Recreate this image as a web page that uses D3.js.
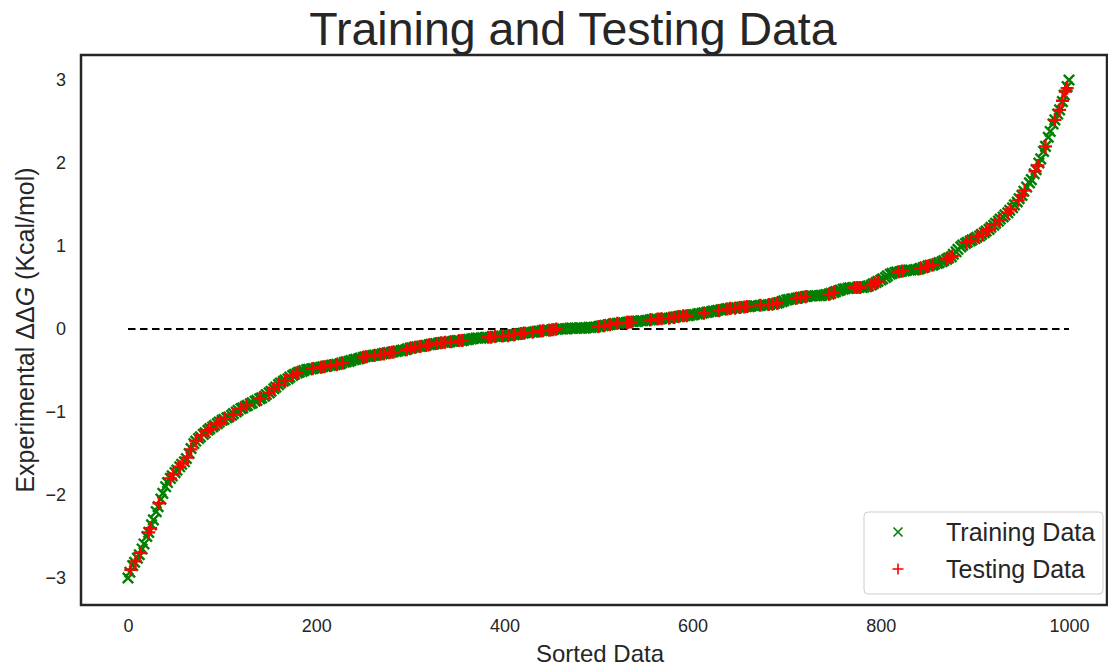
<!DOCTYPE html>
<html>
<head>
<meta charset="utf-8">
<script src="https://cdn.jsdelivr.net/npm/d3@7"></script>
<style>
  html, body { margin: 0; padding: 0; background: #fff; }
  svg { display: block; font-family: Arial, "Liberation Sans", sans-serif; }
</style>
</head>
<body>
<div id="chart"></div>
<script>
// sorted training points: [sorted index, ddG]
const trainPoints = [
  [0,-3.00],[2,-2.93],[5,-2.85],[7,-2.81],[10,-2.76],[12,-2.72],[15,-2.65],[17,-2.59],[20,-2.50],[22,-2.45],
  [25,-2.36],[27,-2.30],[30,-2.20],[32,-2.14],[35,-2.05],[37,-1.98],[40,-1.90],[45,-1.80],[50,-1.73],[55,-1.66],
  [60,-1.60],[65,-1.50],[70,-1.38],[75,-1.32],[80,-1.27],[85,-1.22],[90,-1.18],[95,-1.14],[100,-1.10],[105,-1.07],
  [110,-1.04],[115,-1.00],[120,-0.96],[125,-0.93],[130,-0.90],[135,-0.87],[140,-0.84],[145,-0.81],[150,-0.77],[155,-0.72],
  [160,-0.67],[165,-0.63],[170,-0.60],[175,-0.56],[180,-0.53],[185,-0.51],[190,-0.49],[195,-0.48],[200,-0.47],[205,-0.46],
  [210,-0.45],[215,-0.44],[220,-0.43],[225,-0.42],[230,-0.40],[235,-0.39],[240,-0.37],[245,-0.36],[250,-0.34],[255,-0.33],
  [260,-0.32],[265,-0.31],[270,-0.30],[275,-0.29],[280,-0.28],[285,-0.27],[290,-0.26],[295,-0.25],[300,-0.23],[305,-0.22],
  [310,-0.21],[315,-0.20],[320,-0.19],[325,-0.18],[330,-0.17],[335,-0.16],[340,-0.16],[345,-0.15],[350,-0.14],[355,-0.14],
  [360,-0.13],[365,-0.12],[370,-0.11],[375,-0.11],[380,-0.10],[385,-0.10],[390,-0.09],[395,-0.09],[400,-0.08],[405,-0.08],
  [410,-0.07],[415,-0.06],[420,-0.05],[425,-0.04],[430,-0.04],[435,-0.03],[440,-0.02],[445,-0.02],[450,-0.01],[455,0.00],
  [460,0.00],[465,0.00],[470,0.01],[475,0.01],[480,0.01],[485,0.01],[490,0.02],[495,0.02],[500,0.03],[505,0.04],
  [510,0.05],[515,0.06],[520,0.07],[525,0.07],[530,0.08],[535,0.09],[540,0.09],[545,0.10],[550,0.10],[555,0.11],
  [560,0.12],[565,0.12],[570,0.13],[575,0.13],[580,0.14],[585,0.15],[590,0.16],[595,0.16],[600,0.17],[605,0.18],
  [610,0.19],[615,0.20],[620,0.21],[625,0.22],[630,0.23],[635,0.24],[640,0.25],[645,0.25],[650,0.26],[655,0.27],
  [660,0.27],[665,0.28],[670,0.28],[675,0.29],[680,0.29],[685,0.30],[690,0.31],[695,0.33],[700,0.35],[705,0.36],
  [710,0.37],[715,0.38],[720,0.39],[725,0.40],[730,0.40],[735,0.40],[740,0.41],[745,0.42],[750,0.44],[755,0.46],
  [760,0.48],[765,0.49],[770,0.50],[775,0.50],[780,0.50],[785,0.51],[790,0.53],[795,0.56],[800,0.59],[805,0.62],
  [810,0.66],[815,0.68],[820,0.69],[825,0.70],[830,0.71],[835,0.71],[840,0.72],[845,0.74],[850,0.76],[855,0.77],
  [860,0.79],[865,0.81],[870,0.84],[875,0.87],[880,0.93],[885,0.99],[890,1.03],[895,1.06],[900,1.09],[905,1.12],
  [910,1.16],[915,1.20],[920,1.25],[925,1.30],[930,1.35],[935,1.40],[940,1.46],[945,1.53],[950,1.61],[955,1.71],
  [958,1.76],[960,1.80],[963,1.87],[965,1.92],[968,2.00],[970,2.05],[973,2.14],[975,2.20],[978,2.31],[980,2.38],
  [983,2.47],[985,2.52],[988,2.59],[990,2.64],[993,2.74],[995,2.82],[998,2.92],[1000,3.00]
];

// more training points lying between the ones above
const trainPointsB = [
  [42,-1.85],[47,-1.77],[52,-1.70],[57,-1.63],[62,-1.56],[67,-1.44],[72,-1.35],[77,-1.30],[82,-1.25],[87,-1.20],
  [92,-1.16],[97,-1.12],[102,-1.09],[107,-1.06],[112,-1.02],[117,-0.98],[122,-0.95],[127,-0.92],[132,-0.89],[137,-0.86],
  [142,-0.83],[147,-0.79],[152,-0.75],[157,-0.70],[162,-0.65],[167,-0.615],[172,-0.58],[177,-0.545],[182,-0.52],[187,-0.50],
  [192,-0.485],[197,-0.475],[202,-0.465],[207,-0.455],[212,-0.445],[217,-0.435],[222,-0.425],[227,-0.41],[232,-0.395],[237,-0.38],
  [242,-0.365],[247,-0.35],[252,-0.335],[257,-0.325],[262,-0.315],[267,-0.305],[272,-0.295],[277,-0.285],[282,-0.275],[287,-0.265],
  [292,-0.255],[297,-0.24],[302,-0.225],[307,-0.215],[312,-0.205],[317,-0.195],[322,-0.185],[327,-0.175],[332,-0.165],[337,-0.16],
  [342,-0.155],[347,-0.145],[352,-0.14],[357,-0.135],[362,-0.125],[367,-0.115],[372,-0.11],[377,-0.105],[382,-0.10],[387,-0.095],
  [392,-0.09],[397,-0.085],[402,-0.08],[407,-0.075],[412,-0.065],[417,-0.055],[422,-0.045],[427,-0.04],[432,-0.035],[437,-0.025],
  [442,-0.02],[447,-0.015],[452,-0.005],[457,0.0],[462,0.0],[467,0.005],[472,0.01],[477,0.01],[482,0.01],[487,0.015],
  [492,0.02],[497,0.025],[502,0.035],[507,0.045],[512,0.055],[517,0.065],[522,0.07],[527,0.075],[532,0.085],[537,0.09],
  [542,0.095],[547,0.10],[552,0.105],[557,0.115],[562,0.12],[567,0.125],[572,0.13],[577,0.135],[582,0.145],[587,0.155],
  [592,0.16],[597,0.165],[602,0.175],[607,0.185],[612,0.195],[617,0.205],[622,0.215],[627,0.225],[632,0.235],[637,0.245],
  [642,0.25],[647,0.255],[652,0.265],[657,0.27],[662,0.275],[667,0.28],[672,0.285],[677,0.29],[682,0.295],[687,0.305],
  [692,0.32],[697,0.34],[702,0.355],[707,0.365],[712,0.375],[717,0.385],[722,0.395],[727,0.40],[732,0.40],[737,0.405],
  [742,0.415],[747,0.43],[752,0.45],[757,0.47],[762,0.485],[767,0.495],[772,0.50],[777,0.50],[782,0.505],[787,0.52],
  [792,0.545],[797,0.575],[802,0.605],[807,0.64],[812,0.67],[817,0.685],[822,0.695],[827,0.705],[832,0.71],[837,0.715],
  [842,0.73],[847,0.75],[852,0.765],[857,0.78],[862,0.80],[867,0.825],[872,0.855],[877,0.90],[882,0.96],[887,1.01],
  [892,1.045],[897,1.075],[902,1.105],[907,1.14],[912,1.18],[917,1.225],[922,1.275],[927,1.325],[932,1.375],[937,1.43],
  [942,1.495],[947,1.57],[952,1.66]
];

// sorted testing points: [sorted index, ddG]
const testPoints = [
  [3,-2.90],[8,-2.80],[13,-2.70],[22,-2.45],[24,-2.40],[33,-2.10],[45,-1.80],[48,-1.75],[55,-1.66],[58,-1.62],
  [63,-1.55],[67,-1.45],[72,-1.35],[78,-1.28],[85,-1.22],[88,-1.20],[95,-1.14],[98,-1.12],[103,-1.08],[112,-1.03],
  [120,-0.96],[126,-0.92],[140,-0.84],[150,-0.77],[155,-0.72],[160,-0.67],[167,-0.62],[175,-0.56],[180,-0.53],[196,-0.48],
  [205,-0.46],[208,-0.455],[215,-0.44],[222,-0.43],[228,-0.41],[250,-0.34],[253,-0.335],[262,-0.32],[268,-0.305],[272,-0.30],
  [278,-0.285],[282,-0.28],[296,-0.25],[300,-0.23],[305,-0.22],[310,-0.21],[317,-0.20],[320,-0.19],[328,-0.175],[333,-0.165],
  [337,-0.16],[343,-0.155],[352,-0.14],[355,-0.14],[383,-0.10],[386,-0.10],[390,-0.09],[398,-0.085],[404,-0.08],[410,-0.07],
  [418,-0.055],[421,-0.05],[430,-0.04],[438,-0.025],[441,-0.02],[448,-0.015],[452,-0.01],[455,0.00],[500,0.03],[506,0.04],
  [512,0.05],[520,0.07],[530,0.08],[532,0.08],[535,0.085],[555,0.11],[563,0.12],[567,0.125],[575,0.13],[580,0.14],
  [585,0.15],[590,0.16],[594,0.16],[612,0.19],[628,0.22],[637,0.24],[640,0.25],[645,0.25],[650,0.26],[655,0.265],
  [658,0.27],[672,0.285],[681,0.295],[685,0.30],[690,0.31],[710,0.37],[715,0.38],[720,0.39],[745,0.42],[750,0.44],
  [772,0.50],[775,0.50],[778,0.50],[790,0.53],[794,0.555],[797,0.57],[819,0.69],[823,0.70],[842,0.73],[848,0.755],
  [851,0.76],[855,0.77],[870,0.84],[873,0.86],[876,0.88],[891,1.04],[895,1.06],[903,1.11],[908,1.14],[912,1.18],
  [915,1.20],[921,1.26],[926,1.31],[935,1.40],[938,1.44],[946,1.55],[950,1.61],[953,1.67],[964,1.90],[967,1.97],
  [975,2.20],[985,2.52],[990,2.64],[993,2.75],[996,2.86],[998,2.90]
];

const refLine = [0, 1000];           // x extent of the dashed y=0 line
const xTicks = [0, 200, 400, 600, 800, 1000];
const yTicks = [-3, -2, -1, 0, 1, 2, 3];
const seriesNames = ['Training Data', 'Testing Data'];
const seriesColors = ['green', 'red'];

const W = 1108, H = 668;
const frame = { left: 81, right: 1107, top: 55, bottom: 605 };
const ink = '#262626';

const x = d3.scaleLinear().domain([0, 1000]).range([128, 1069]);
const y = d3.scaleLinear().domain([-3, 3]).range([578, 80]);

const svg = d3.select('#chart').append('svg')
  .attr('width', W).attr('height', H);

// marker paths
const crossX = s => `M${-s},${-s}L${s},${s}M${-s},${s}L${s},${-s}`;
const crossPlus = s => `M${-s},0L${s},0M0,${-s}L0,${s}`;

// dashed zero line
svg.append('line')
  .attr('x1', x(refLine[0])).attr('x2', x(refLine[1]))
  .attr('y1', y(0)).attr('y2', y(0))
  .attr('stroke', '#000').attr('stroke-width', 2)
  .attr('stroke-dasharray', '7.5,4.5');

svg.append('g').selectAll('path')
  .data(trainPoints.concat(trainPointsB)).enter().append('path')
  .attr('transform', d => `translate(${x(d[0])},${y(d[1])})`)
  .attr('d', crossX(5.2))
  .attr('fill', 'none').attr('stroke', seriesColors[0]).attr('stroke-width', 2.4);

svg.append('g').selectAll('path')
  .data(testPoints).enter().append('path')
  .attr('transform', d => `translate(${x(d[0])},${y(d[1])})`)
  .attr('d', crossPlus(6.5))
  .attr('fill', 'none').attr('stroke', seriesColors[1]).attr('stroke-width', 2.4);

// frame
svg.append('rect')
  .attr('x', frame.left).attr('y', frame.top)
  .attr('width', frame.right - frame.left).attr('height', frame.bottom - frame.top)
  .attr('fill', 'none').attr('stroke', ink).attr('stroke-width', 2.5);

// axes (labels only, seaborn white style has no tick marks)
const xAxis = svg.append('g')
  .attr('transform', `translate(0,${frame.bottom})`)
  .call(d3.axisBottom(x).tickValues(xTicks).tickSize(0).tickPadding(14)
    .tickFormat(d3.format('d')));
const yAxis = svg.append('g')
  .attr('transform', `translate(${frame.left},0)`)
  .call(d3.axisLeft(y).tickValues(yTicks).tickSize(0).tickPadding(15)
    .tickFormat(d => d < 0 ? '\u2212' + Math.abs(d) : d));
[xAxis, yAxis].forEach(g => {
  g.select('.domain').remove();
  g.selectAll('text').attr('font-size', 18).attr('fill', ink)
    .attr('font-family', 'Arial, "Liberation Sans", sans-serif');
});

// titles
svg.append('text')
  .attr('x', 573).attr('y', 45)
  .attr('text-anchor', 'middle').attr('font-size', 46.5).attr('fill', ink)
  .text('Training and Testing Data');

svg.append('text')
  .attr('x', 600).attr('y', 662)
  .attr('text-anchor', 'middle').attr('font-size', 24).attr('fill', ink)
  .text('Sorted Data');

const yl = svg.append('text')
  .attr('transform', `translate(34,${(frame.top + frame.bottom) / 2}) rotate(-90)`)
  .attr('text-anchor', 'middle').attr('font-size', 25).attr('fill', ink);
yl.append('tspan').text('Experimental \u0394\u0394');
yl.append('tspan').attr('font-style', 'italic').text('G');
yl.append('tspan').text(' (Kcal/mol)');

// legend
const lg = svg.append('g').attr('transform', 'translate(864,512)');
lg.append('rect')
  .attr('width', 239).attr('height', 82).attr('rx', 4)
  .attr('fill', '#fff').attr('fill-opacity', 0.8)
  .attr('stroke', '#cccccc').attr('stroke-width', 1);
seriesNames.forEach((name, i) => {
  const cy = 20 + i * 37;
  lg.append('path')
    .attr('transform', `translate(34,${cy})`)
    .attr('d', i === 0 ? crossX(4.5) : crossPlus(5.5))
    .attr('fill', 'none').attr('stroke', seriesColors[i]).attr('stroke-width', 1.6);
  lg.append('text')
    .attr('x', 82).attr('y', cy + 9)
    .attr('font-size', 25).attr('fill', ink)
    .text(name);
});
</script>
</body>
</html>
